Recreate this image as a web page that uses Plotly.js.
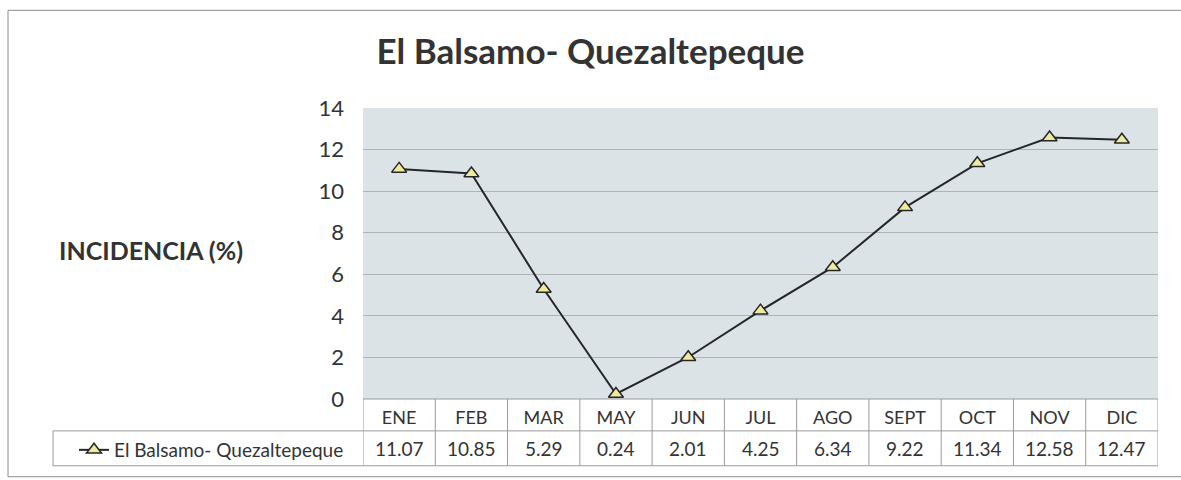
<!DOCTYPE html>
<html>
<head>
<meta charset="utf-8">
<script src="https://cdn.plot.ly/plotly-3.0.1.min.js"></script>
<style>html,body{margin:0;padding:0;background:#fff;}#chart{width:1181px;height:480px;}</style>
</head>
<body>
<div id="chart"></div>
<script>
// ---- data ----
const months = ["ENE","FEB","MAR","MAY","JUN","JUL","AGO","SEPT","OCT","NOV","DIC"];
const incidence = [11.07, 10.85, 5.29, 0.24, 2.01, 4.25, 6.34, 9.22, 11.34, 12.58, 12.47];
const seriesName = "El Balsamo- Quezaltepeque";
const chartTitle = "El Balsamo- Quezaltepeque";
const yTitle = "INCIDENCIA (%)";
const yTicks = [0, 2, 4, 6, 8, 10, 12, 14];

// ---- layout geometry (pixels) ----
const W = 1181, H = 480;
const L = 363, R = 1158, T = 108, B = 400;
const pw = R - L, ph = B - T;
const px2x = p => (p - L) / pw;
const py2y = p => (B - p) / ph;
const FONT = "Lato, 'Open Sans', sans-serif";
const TXT = "#333333";
const CELL = "#9a9a9a";

const shapes = [];
// outer chart border
shapes.push({type:"rect", xref:"paper", yref:"paper", x0:px2x(8), x1:px2x(1195), y0:py2y(478), y1:py2y(10),
  line:{color:"#8c8c8c", width:1}, fillcolor:"rgba(0,0,0,0)", layer:"below"});
// table cells
const rowMid = py2y(432), rowBot = py2y(467);
for (let i = 0; i <= months.length; i++) {
  shapes.push({type:"line", xref:"x", yref:"paper", x0:i-0.5, x1:i-0.5, y0:0, y1:rowBot,
    line:{color:CELL, width:1}});
}
shapes.push({type:"line", xref:"paper", yref:"paper", x0:0, x1:1, y0:0, y1:0, line:{color:CELL, width:1}});
shapes.push({type:"line", xref:"paper", yref:"paper", x0:px2x(53), x1:1, y0:rowMid, y1:rowMid, line:{color:CELL, width:1}});
shapes.push({type:"line", xref:"paper", yref:"paper", x0:px2x(53), x1:1, y0:rowBot, y1:rowBot, line:{color:CELL, width:1}});
shapes.push({type:"line", xref:"paper", yref:"paper", x0:px2x(53), x1:px2x(53), y0:rowMid, y1:rowBot, line:{color:CELL, width:1}});

const annotations = [];
// values row
months.forEach((m, i) => {
  annotations.push({x:m, xref:"x", y:py2y(450), yref:"paper", text:incidence[i].toFixed(2),
    showarrow:false, font:{family:FONT, size:19, color:TXT}, xanchor:"center", yanchor:"middle"});
});
// y axis title (horizontal)
annotations.push({x:px2x(151), xref:"paper", y:py2y(250), yref:"paper", text:"<b>"+yTitle+"</b>",
  showarrow:false, font:{family:FONT, size:25, color:TXT}, xanchor:"center", yanchor:"middle"});

const trace = {
  x: months, y: incidence, type:"scatter", mode:"lines+markers", name: seriesName,
  line:{color:"#262626", width:2},
  marker:{symbol:"triangle-up", size:13, color:"#eeeaa0", line:{color:"#262626", width:1.5}},
  cliponaxis:false
};

const layout = {
  width:W, height:H,
  margin:{l:L, r:W-R, t:T, b:H-B, pad:0},
  paper_bgcolor:"#ffffff",
  plot_bgcolor:"#dce3e7",
  title:{text:"<b>"+chartTitle+"</b>", xref:"container", x:0.5, xanchor:"center",
    yref:"container", y:1-52/H, yanchor:"middle", font:{family:FONT, size:35, color:TXT}},
  xaxis:{type:"category", range:[-0.5, months.length-0.5], showgrid:false, zeroline:false,
    ticks:"", tickfont:{family:FONT, size:18, color:TXT}, ticklabelstandoff:6, fixedrange:true},
  yaxis:{range:[0,14], tickvals:yTicks, showgrid:true, gridcolor:"#aeb3b7", gridwidth:1,
    zeroline:false, ticks:"", tickfont:{family:FONT, size:22, color:TXT}, ticklabelstandoff:18, fixedrange:true},
  showlegend:true,
  legend:{x:px2x(74), xanchor:"left", y:py2y(450), yanchor:"middle", bgcolor:"rgba(0,0,0,0)",
    font:{family:FONT, size:19, color:TXT}, borderwidth:0, itemwidth:30},
  shapes:shapes,
  annotations:annotations
};

Plotly.newPlot("chart", [trace], layout, {displayModeBar:false, staticPlot:true});
</script>
</body>
</html>
